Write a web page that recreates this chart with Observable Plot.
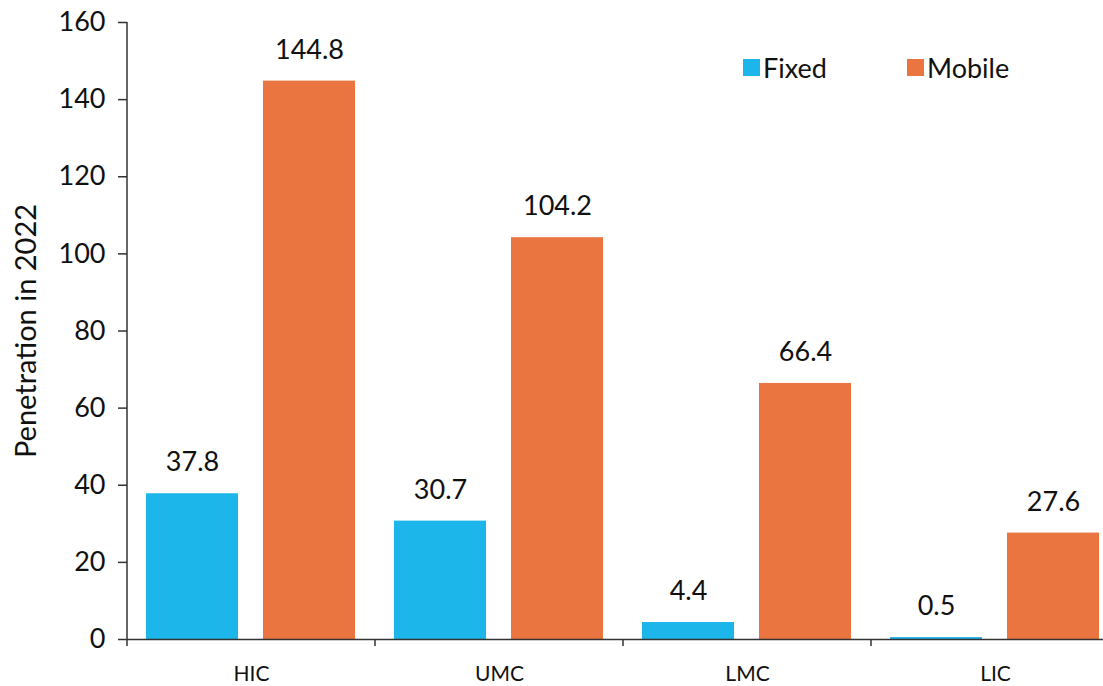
<!DOCTYPE html>
<html>
<head>
<meta charset="utf-8">
<script src="https://cdn.jsdelivr.net/npm/d3@7"></script>
<script src="https://cdn.jsdelivr.net/npm/@observablehq/plot@0.6"></script>
<style>
  html, body { margin: 0; padding: 0; background: #fff; overflow: hidden; }
  #wrap { position: relative; width: 1103px; height: 686px; overflow: hidden; font-family: Lato, sans-serif; }
  #chart svg { display: block; max-width: none !important; width: 1119px !important; height: 686px !important; }
  #legend { position: absolute; left: 743px; top: 51px; }
  .lg-swatches { font-family: Lato, sans-serif; font-size: 27px; color: #111; margin: 0 !important; min-height: 0 !important; }
  .lg-swatch { width: 164px; margin-right: 0 !important; }
  .lg-swatch > svg { margin-right: 3px !important; }
</style>
</head>
<body>
<div id="wrap"><div id="chart"></div><div id="legend"></div></div>
<script>
// Income groups and the two broadband series
const groups = ["HIC", "UMC", "LMC", "LIC"];
const series = ["Fixed", "Mobile"];
const fixedValues = [37.8, 30.7, 4.4, 0.5];
const mobileValues = [144.8, 104.2, 66.4, 27.6];
const yTicks = [0, 20, 40, 60, 80, 100, 120, 140, 160];
const seriesColors = ["#1db6eb", "#eb7541"];

const rows = groups.flatMap((g, i) => [
  { group: g, series: "Fixed", value: fixedValues[i] },
  { group: g, series: "Mobile", value: mobileValues[i] }
]);

const ink = "#111";
const axisInk = "#333";

const chart = Plot.plot({
  width: 1119,
  height: 686,
  marginLeft: 127,
  marginRight: 0,
  marginTop: 22,
  marginBottom: 47,
  style: { fontFamily: "Lato, sans-serif", color: ink, background: "#fff" },
  fx: { domain: groups, padding: 0, label: null },
  x: { domain: series, paddingInner: 0.212, paddingOuter: 0.161, axis: null },
  y: { domain: [0, 160], label: null },
  color: { domain: series, range: seriesColors },
  marks: [
    Plot.barY(rows, { fx: "group", x: "series", y: "value", fill: "series" }),
    Plot.text(rows, {
      fx: "group", x: "series", y: "value",
      text: d => d.value.toFixed(1),
      dy: -31, fontSize: 27, fill: ink
    }),
    Plot.ruleY([0], { stroke: axisInk, strokeWidth: 1.5 }),
    Plot.axisY({
      ticks: yTicks, tickSize: 9, tickPadding: 13, fontSize: 27,
      stroke: axisInk, strokeWidth: 1.5,
      label: "Penetration in 2022", labelAnchor: "center", labelArrow: "none", labelOffset: 112
    }),
    Plot.axisFx({ anchor: "bottom", tickSize: 0, tickPadding: 27, fontSize: 21, label: null })
  ]
});

document.getElementById("chart").appendChild(chart);
d3.select(chart).selectAll('g[aria-label="y-axis label"] text').style("font-size", "29px");

// Vertical axis line and category boundary ticks on the baseline
const fx = chart.scale("fx");
const y = chart.scale("y");
const left = fx.apply(groups[0]);
const edges = [...groups.map(g => fx.apply(g)), fx.apply(groups[groups.length - 1]) + fx.bandwidth];
const g = d3.select(chart).append("g").attr("stroke", axisInk).attr("stroke-width", 1.5);
g.append("line")
  .attr("x1", left).attr("x2", left)
  .attr("y1", y.apply(160)).attr("y2", y.apply(0));
g.selectAll("line.edge").data(edges).join("line").attr("class", "edge")
  .attr("x1", d => d).attr("x2", d => d)
  .attr("y1", y.apply(0)).attr("y2", y.apply(0) + 7);

// Series legend
const legend = Plot.legend({
  color: { domain: series, range: seriesColors },
  legend: "swatches",
  swatchSize: 17,
  className: "lg"
});
document.getElementById("legend").appendChild(legend);
</script>
</body>
</html>
